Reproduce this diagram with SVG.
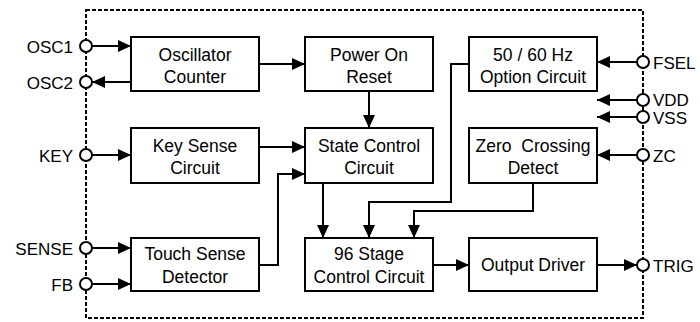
<svg xmlns="http://www.w3.org/2000/svg" width="700" height="322" viewBox="0 0 700 322">
<style>
.box{fill:#fff;stroke:#000;stroke-width:2}
.t{font-family:"Liberation Sans",Arial,sans-serif;font-size:17.5px;fill:#000;text-anchor:middle;white-space:pre}
.pl{font-family:"Liberation Sans",Arial,sans-serif;font-size:17px;fill:#000}
.ln{fill:none;stroke:#000;stroke-width:2}
.pin{fill:#fff;stroke:#000;stroke-width:2}
.dash{fill:none;stroke:#000;stroke-width:2;stroke-dasharray:4,2}
</style>
<defs>
<marker id="ah" markerUnits="userSpaceOnUse" markerWidth="13" markerHeight="12" refX="13" refY="6" orient="auto">
<path d="M0,0 L13,6 L0,12 z" fill="#000"/>
</marker>
</defs>
<rect class="dash" x="86" y="10" width="557" height="308"/>
<g id="connectors">
<path class="ln" d="M92,46 H131" marker-end="url(#ah)"/>
<path class="ln" d="M131,82 H92" marker-end="url(#ah)"/>
<path class="ln" d="M259,64 H305" marker-end="url(#ah)"/>
<path class="ln" d="M369,91 V128" marker-end="url(#ah)"/>
<path class="ln" d="M259,147 H305" marker-end="url(#ah)"/>
<path class="ln" d="M259,265 H278 V174 H305" marker-end="url(#ah)"/>
<path class="ln" d="M92,155 H131" marker-end="url(#ah)"/>
<path class="ln" d="M92,248 H131" marker-end="url(#ah)"/>
<path class="ln" d="M92,284 H131" marker-end="url(#ah)"/>
<path class="ln" d="M323,183 V238" marker-end="url(#ah)"/>
<path class="ln" d="M469,64 H451 V202 H369 V238" marker-end="url(#ah)"/>
<path class="ln" d="M533,183 V211 H414 V238" marker-end="url(#ah)"/>
<path class="ln" d="M433,265 H469" marker-end="url(#ah)"/>
<path class="ln" d="M597,265 H637" marker-end="url(#ah)"/>
<path class="ln" d="M637,62 H597" marker-end="url(#ah)"/>
<path class="ln" d="M637,100 H597" marker-end="url(#ah)"/>
<path class="ln" d="M637,117 H597" marker-end="url(#ah)"/>
<path class="ln" d="M637,155 H597" marker-end="url(#ah)"/>
</g>
<g id="osc"><rect class="box" x="131" y="37" width="128" height="54"/><text class="t" x="195" y="61">Oscillator</text><text class="t" x="195" y="83">Counter</text></g>
<g id="por"><rect class="box" x="305" y="37" width="128" height="54"/><text class="t" x="369" y="61">Power On</text><text class="t" x="369" y="83">Reset</text></g>
<g id="opt"><rect class="box" x="469" y="37" width="128" height="54"/><text class="t" x="533" y="61">50 / 60 Hz</text><text class="t" x="533" y="83">Option Circuit</text></g>
<g id="key"><rect class="box" x="131" y="128" width="128" height="55"/><text class="t" x="195" y="152">Key Sense</text><text class="t" x="195" y="174">Circuit</text></g>
<g id="state"><rect class="box" x="305" y="128" width="128" height="55"/><text class="t" x="369" y="152">State Control</text><text class="t" x="369" y="174">Circuit</text></g>
<g id="zcd"><rect class="box" x="469" y="128" width="128" height="55"/><text class="t" x="533" y="152">Zero  Crossing</text><text class="t" x="533" y="174">Detect</text></g>
<g id="touch"><rect class="box" x="131" y="238" width="128" height="53"/><text class="t" x="195" y="260">Touch Sense</text><text class="t" x="195" y="283">Detector</text></g>
<g id="stage"><rect class="box" x="305" y="238" width="128" height="53"/><text class="t" x="369" y="260">96 Stage</text><text class="t" x="369" y="283">Control Circuit</text></g>
<g id="out"><rect class="box" x="469" y="238" width="128" height="53"/><text class="t" x="533" y="271">Output Driver</text></g>
<g id="pins">
<g id="p-osc1"><circle class="pin" cx="86" cy="46" r="6"/><text class="pl" x="73" y="52.5" text-anchor="end">OSC1</text></g>
<g id="p-osc2"><circle class="pin" cx="86" cy="82" r="6"/><text class="pl" x="73" y="88.5" text-anchor="end">OSC2</text></g>
<g id="p-key"><circle class="pin" cx="86" cy="155" r="6"/><text class="pl" x="73" y="161.5" text-anchor="end">KEY</text></g>
<g id="p-sense"><circle class="pin" cx="86" cy="248" r="6"/><text class="pl" x="73" y="254.5" text-anchor="end">SENSE</text></g>
<g id="p-fb"><circle class="pin" cx="86" cy="284" r="6"/><text class="pl" x="73" y="290.5" text-anchor="end">FB</text></g>
<g id="p-fsel"><circle class="pin" cx="643" cy="62" r="6"/><text class="pl" x="653" y="68.5">FSEL</text></g>
<g id="p-vdd"><circle class="pin" cx="643" cy="100" r="6"/><text class="pl" x="653" y="106">VDD</text></g>
<g id="p-vss"><circle class="pin" cx="643" cy="117" r="6"/><text class="pl" x="653" y="124">VSS</text></g>
<g id="p-zc"><circle class="pin" cx="643" cy="155" r="6"/><text class="pl" x="653" y="161.5">ZC</text></g>
<g id="p-trig"><circle class="pin" cx="643" cy="265" r="6"/><text class="pl" x="653" y="271.5">TRIG</text></g>
</g>
</svg>
